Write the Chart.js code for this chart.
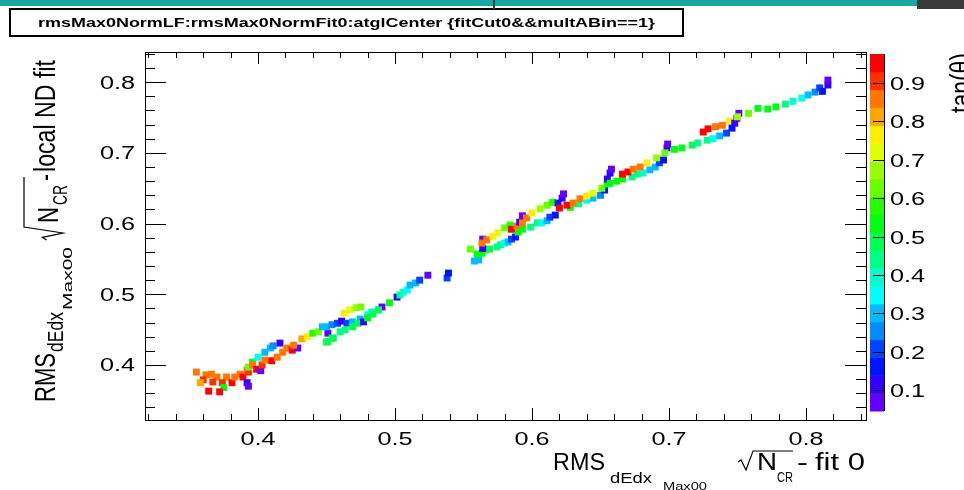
<!DOCTYPE html>
<html>
<head>
<meta charset="utf-8">
<script src="https://cdn.jsdelivr.net/npm/chart.js@4.4.1/dist/chart.umd.min.js"></script>
<style>
  html, body { margin: 0; padding: 0; background: #fff; }
  #wrap { position: relative; width: 964px; height: 490px; overflow: hidden; }
  canvas { position: absolute; left: 0; top: 0; }
  #topBar { position: absolute; left: 0; top: 0; width: 917px; height: 6px; background: #17a8a4; }
  #topMark { position: absolute; left: 493px; top: 0; width: 2px; height: 9px; background: #3c3c3c; }
  #topBlock { position: absolute; left: 917px; top: 0; width: 47px; height: 9px; background: #3a3a3a; }
</style>
</head>
<body>
<div id="wrap">
  <canvas id="chart" width="964" height="490"></canvas>
  <div id="topBar"></div>
  <div id="topMark"></div>
  <div id="topBlock"></div>
</div>
<script>
// --- DATA: [x = fit 0, y = local ND fit, tan(theta)] ---
const trackA = [
  [0.355, 0.390, 0.85], [0.362, 0.386, 0.86], [0.360, 0.379, 0.92], [0.358, 0.375, 0.82],
  [0.366, 0.387, 0.85], [0.370, 0.383, 0.86], [0.367, 0.376, 0.90], [0.377, 0.383, 0.86],
  [0.374, 0.375, 0.92], [0.381, 0.375, 0.93], [0.383, 0.383, 0.86], [0.375, 0.368, 0.55],
  [0.364, 0.363, 0.95], [0.372, 0.362, 0.95], [0.387, 0.387, 0.85], [0.389, 0.383, 0.93],
  [0.392, 0.375, 0.12], [0.393, 0.370, 0.07], [0.392, 0.393, 0.85], [0.393, 0.390, 0.92],
  [0.393, 0.397, 0.62], [0.396, 0.404, 0.55], [0.400, 0.411, 0.35], [0.405, 0.418, 0.30],
  [0.409, 0.424, 0.30], [0.411, 0.427, 0.25], [0.416, 0.431, 0.12], [0.396, 0.400, 0.85],
  [0.399, 0.394, 0.93], [0.402, 0.392, 0.07], [0.403, 0.400, 0.92], [0.405, 0.407, 0.85],
  [0.410, 0.406, 0.93], [0.414, 0.411, 0.85], [0.418, 0.418, 0.85], [0.421, 0.424, 0.85],
  [0.425, 0.421, 0.93], [0.429, 0.424, 0.07], [0.426, 0.428, 0.85], [0.432, 0.437, 0.82],
  [0.436, 0.440, 0.75], [0.440, 0.445, 0.58], [0.444, 0.447, 0.65], [0.451, 0.445, 0.07],
  [0.451, 0.433, 0.55], [0.454, 0.438, 0.50]
];
const trackB = [
  [0.447, 0.454, 0.30], [0.450, 0.454, 0.32], [0.454, 0.457, 0.25], [0.458, 0.459, 0.20],
  [0.461, 0.462, 0.12], [0.465, 0.459, 0.20], [0.469, 0.461, 0.28], [0.4745, 0.465, 0.30],
  [0.480, 0.471, 0.35], [0.483, 0.475, 0.38], [0.488, 0.478, 0.45], [0.4905, 0.482, 0.07],
  [0.463, 0.4735, 0.75], [0.467, 0.478, 0.70], [0.4715, 0.481, 0.66], [0.475, 0.482, 0.62],
  [0.450, 0.4325, 0.50], [0.455, 0.438, 0.50], [0.460, 0.447, 0.45], [0.4635, 0.4495, 0.45],
  [0.469, 0.454, 0.50], [0.473, 0.459, 0.50], [0.477, 0.461, 0.12], [0.480, 0.4665, 0.52],
  [0.484, 0.472, 0.50], [0.488, 0.478, 0.50], [0.496, 0.488, 0.52], [0.5015, 0.496, 0.12],
  [0.5036, 0.499, 0.42], [0.506, 0.503, 0.40], [0.509, 0.506, 0.35], [0.511, 0.513, 0.30],
  [0.515, 0.516, 0.28], [0.518, 0.520, 0.22], [0.524, 0.527, 0.07], [0.538, 0.523, 0.22],
  [0.539, 0.530, 0.15]
];
const trackC = [
  [0.555, 0.564, 0.65], [0.558, 0.547, 0.30], [0.561, 0.5485, 0.30], [0.560, 0.557, 0.52],
  [0.5635, 0.558, 0.52], [0.566, 0.563, 0.52], [0.569, 0.564, 0.50], [0.5745, 0.567, 0.45],
  [0.577, 0.570, 0.42], [0.580, 0.5725, 0.35], [0.5825, 0.574, 0.30], [0.585, 0.578, 0.20],
  [0.588, 0.581, 0.15], [0.564, 0.565, 0.12], [0.564, 0.578, 0.07], [0.5635, 0.5725, 0.85],
  [0.567, 0.577, 0.85], [0.5715, 0.582, 0.75], [0.575, 0.587, 0.70], [0.580, 0.594, 0.65],
  [0.584, 0.598, 0.60], [0.590, 0.588, 0.52], [0.593, 0.592, 0.52], [0.585, 0.592, 0.95],
  [0.589, 0.5965, 0.88], [0.591, 0.602, 0.12], [0.593, 0.611, 0.07], [0.593, 0.601, 0.85],
  [0.596, 0.608, 0.85], [0.599, 0.595, 0.45], [0.604, 0.601, 0.42], [0.607, 0.601, 0.35],
  [0.611, 0.604, 0.30], [0.613, 0.609, 0.20], [0.617, 0.612, 0.15], [0.600, 0.615, 0.75],
  [0.606, 0.621, 0.68], [0.611, 0.626, 0.65], [0.615, 0.630, 0.58], [0.619, 0.629, 0.15],
  [0.622, 0.636, 0.12], [0.623, 0.642, 0.07], [0.628, 0.623, 0.52], [0.620, 0.622, 0.95],
  [0.6255, 0.626, 0.93], [0.634, 0.628, 0.45], [0.630, 0.629, 0.88], [0.635, 0.635, 0.85],
  [0.640, 0.633, 0.35], [0.6445, 0.636, 0.30], [0.640, 0.639, 0.75], [0.6445, 0.643, 0.70],
  [0.650, 0.640, 0.25], [0.653, 0.6475, 0.15], [0.651, 0.650, 0.65], [0.655, 0.656, 0.58]
];
const trackD = [
  [0.655, 0.663, 0.12], [0.657, 0.6715, 0.12], [0.658, 0.677, 0.07], [0.657, 0.657, 0.52],
  [0.662, 0.660, 0.52], [0.666, 0.663, 0.52], [0.673, 0.666, 0.45], [0.677, 0.670, 0.42],
  [0.681, 0.6715, 0.40], [0.686, 0.676, 0.30], [0.690, 0.680, 0.28], [0.693, 0.686, 0.20],
  [0.696, 0.690, 0.15], [0.666, 0.670, 0.95], [0.670, 0.673, 0.93], [0.674, 0.677, 0.88],
  [0.679, 0.680, 0.85], [0.684, 0.686, 0.75], [0.691, 0.693, 0.68], [0.6985, 0.707, 0.12],
  [0.699, 0.7125, 0.07], [0.697, 0.700, 0.62], [0.704, 0.705, 0.55], [0.7095, 0.707, 0.52],
  [0.717, 0.711, 0.50], [0.721, 0.714, 0.45], [0.728, 0.718, 0.42], [0.732, 0.720, 0.35],
  [0.737, 0.724, 0.30], [0.742, 0.728, 0.22]
];
const trackE = [
  [0.725, 0.7295, 0.95], [0.7285, 0.734, 0.93], [0.734, 0.737, 0.88], [0.739, 0.739, 0.85],
  [0.744, 0.745, 0.75], [0.746, 0.735, 0.15], [0.748, 0.742, 0.12], [0.7496, 0.749, 0.12],
  [0.751, 0.756, 0.07], [0.750, 0.751, 0.68], [0.758, 0.756, 0.62], [0.765, 0.763, 0.55],
  [0.772, 0.762, 0.52], [0.778, 0.765, 0.52], [0.785, 0.769, 0.45], [0.7905, 0.773, 0.40],
  [0.797, 0.7775, 0.33], [0.8015, 0.782, 0.30], [0.8066, 0.786, 0.25], [0.810, 0.792, 0.20],
  [0.812, 0.787, 0.15], [0.816, 0.796, 0.12], [0.816, 0.803, 0.07]
];

const xTicks = [0.4, 0.5, 0.6, 0.7, 0.8];
const yTicks = [0.4, 0.5, 0.6, 0.7, 0.8];
const zTicks = [0.1, 0.2, 0.3, 0.4, 0.5, 0.6, 0.7, 0.8, 0.9];
const zRange = [0.045, 0.976];
const titleText = "rmsMax0NormLF:rmsMax0NormFit0:atglCenter {fitCut0&&multABin==1}";

// --- PALETTE (ROOT pretty palette, 20 contours) ---
const nContours = 20;
function bandColor(k) {
  const idx = Math.floor((k + 0.99) * 50 / nContours);
  const hue = 280 - (idx + 1) * 5.6;
  return `hsl(${hue}, 100%, 50%)`;
}
function zColor(z) {
  const f = (z - zRange[0]) / (zRange[1] - zRange[0]);
  const k = Math.min(nContours - 1, Math.max(0, Math.floor(f * nContours)));
  return bandColor(k);
}

// --- TEXT HELPERS ---
const FONT = '"Liberation Sans", Arial, sans-serif';
function fitText(ctx, str, x, y, size, width, align = "left", weight = "") {
  ctx.save();
  ctx.font = `${weight} ${size}px ${FONT}`;
  const s = width / ctx.measureText(str).width;
  ctx.translate(x, y);
  ctx.scale(s, 1);
  ctx.textAlign = align;
  ctx.textBaseline = "alphabetic";
  ctx.fillText(str, 0, 0);
  ctx.restore();
}
function fitUp(ctx, str, bx, sy, size, len, capScale) {
  ctx.save();
  ctx.font = `${size}px ${FONT}`;
  const s = len / ctx.measureText(str).width;
  ctx.translate(bx, sy);
  ctx.rotate(-Math.PI / 2);
  ctx.scale(s, capScale);
  ctx.textAlign = "left";
  ctx.textBaseline = "alphabetic";
  ctx.fillText(str, 0, 0);
  ctx.restore();
}
function stretched(ctx, str, x, y, size, align) {
  ctx.save();
  ctx.font = `${size}px ${FONT}`;
  ctx.translate(x, y);
  ctx.scale(1.4, 1);
  ctx.textAlign = align;
  ctx.fillText(str, 0, 0);
  ctx.restore();
}
function polyline(ctx, pts) {
  ctx.beginPath();
  pts.forEach(([x, y], i) => (i ? ctx.lineTo(x, y) : ctx.moveTo(x, y)));
  ctx.stroke();
}

// --- FRAME, AXES, PALETTE BAR ---
const rootFrame = {
  id: "rootFrame",
  afterDraw(chart) {
    const { ctx, chartArea: a, scales: { x, y } } = chart;
    ctx.save();
    ctx.strokeStyle = "#000";
    ctx.fillStyle = "#000";
    ctx.lineWidth = 1;
    ctx.strokeRect(a.left + 0.5, a.top + 0.5, a.right - a.left, a.bottom - a.top);

    // ticks inside the frame
    for (let i = 15; i <= 43; i++) {
      const v = i / 50;
      const major = i % 5 === 0;
      const len = major ? 12 : 6;
      const px = Math.round(x.getPixelForValue(v)) + 0.5;
      if (px > a.left + 1 && px < a.right - 1) {
        polyline(ctx, [[px, a.bottom], [px, a.bottom - len]]);
        polyline(ctx, [[px, a.top], [px, a.top + len]]);
      }
      const py = Math.round(y.getPixelForValue(v)) + 0.5;
      if (py > a.top + 1 && py < a.bottom - 1) {
        const ylen = major ? 21 : 10;
        polyline(ctx, [[a.left, py], [a.left + ylen, py]]);
        polyline(ctx, [[a.right, py], [a.right - ylen, py]]);
      }
    }

    // tick labels
    ctx.fillStyle = "#000";
    xTicks.forEach(v => stretched(ctx, v.toFixed(1), x.getPixelForValue(v), 445, 18, "center"));
    yTicks.forEach(v => stretched(ctx, v.toFixed(1), 135, y.getPixelForValue(v) + 6.5, 18, "right"));

    // palette bar
    const bx0 = 870, bx1 = 884, bTop = 54, bBot = 411;
    const zPix = v => bBot - (v - zRange[0]) / (zRange[1] - zRange[0]) * (bBot - bTop);
    const dz = (zRange[1] - zRange[0]) / nContours;
    for (let k = 0; k < nContours; k++) {
      const y0 = zPix(zRange[0] + k * dz), y1 = zPix(zRange[0] + (k + 1) * dz);
      ctx.fillStyle = bandColor(k);
      ctx.fillRect(bx0, y1, bx1 - bx0, y0 - y1 + 0.5);
    }
    ctx.fillStyle = "#000";
    polyline(ctx, [[bx1 + 0.5, bTop], [bx1 + 0.5, bBot]]);
    zTicks.forEach(v => {
      const py = Math.round(zPix(v)) + 0.5;
      polyline(ctx, [[bx1 + 0.5, py], [bx1 - 11, py]]);
      stretched(ctx, v.toFixed(1), 890, py + 6.5, 18, "left");
    });
    fitUp(ctx, "tan(\u03B8)", 971, 113, 22, 60, 1.38);

    // x axis title
    fitText(ctx, "RMS", 553, 470, 23.5, 52);
    fitText(ctx, "dEdx", 610, 483, 14, 42);
    fitText(ctx, "Max00", 663, 490, 10, 44);
    ctx.lineWidth = 1.2;
    polyline(ctx, [[738, 462], [741, 460], [746, 470], [753, 451], [793, 451]]);
    fitText(ctx, "N", 757, 470, 23.5, 20);
    fitText(ctx, "CR", 777, 482, 15, 16);
    fitText(ctx, "-", 797, 470, 23.5, 11);
    fitText(ctx, "fit 0", 815, 470, 23.5, 50);

    // y axis title
    fitUp(ctx, "RMS", 55, 402, 22, 49, 1.38);
    fitUp(ctx, "dEdx", 63, 352, 16, 40, 1.38);
    fitUp(ctx, "Max00", 72, 310, 9, 63, 1.38);
    polyline(ctx, [[46.6, 240], [42.5, 237.4], [63, 233], [24, 227], [24, 177]]);
    fitUp(ctx, "N", 58, 223, 22, 16, 1.38);
    fitUp(ctx, "CR", 67, 205, 15, 20, 1.38);
    fitUp(ctx, "-", 55, 181, 22, 7, 1.38);
    fitUp(ctx, "local ND fit", 55, 172, 22, 112, 1.38);

    // title box
    ctx.fillStyle = "#fff";
    ctx.fillRect(10, 9, 673, 27);
    ctx.lineWidth = 2;
    ctx.strokeRect(10, 9, 673, 27);
    ctx.fillStyle = "#000";
    fitText(ctx, titleText, 346.5, 27, 13, 617, "center", "bold");
    ctx.restore();
  }
};

// --- CHART ---
const points = [...trackA, ...trackB, ...trackC, ...trackD, ...trackE];

new Chart(document.getElementById("chart"), {
  type: "scatter",
  data: {
    datasets: [{
      data: points.map(p => ({ x: p[0], y: p[1] })),
      backgroundColor: points.map(p => zColor(p[2])),
      borderWidth: 0,
      pointStyle: "rect",
      pointRadius: 4.9,
      pointHoverRadius: 4.9
    }]
  },
  options: {
    responsive: false,
    devicePixelRatio: 1,
    animation: false,
    events: [],
    layout: { padding: { left: 145, right: 98, top: 52, bottom: 70 } },
    plugins: { legend: { display: false }, tooltip: { enabled: false } },
    scales: {
      x: { type: "linear", display: false, min: 0.3175, max: 0.8438 },
      y: { type: "linear", display: false, min: 0.3222, max: 0.8427 }
    }
  },
  plugins: [rootFrame]
});
</script>
</body>
</html>
